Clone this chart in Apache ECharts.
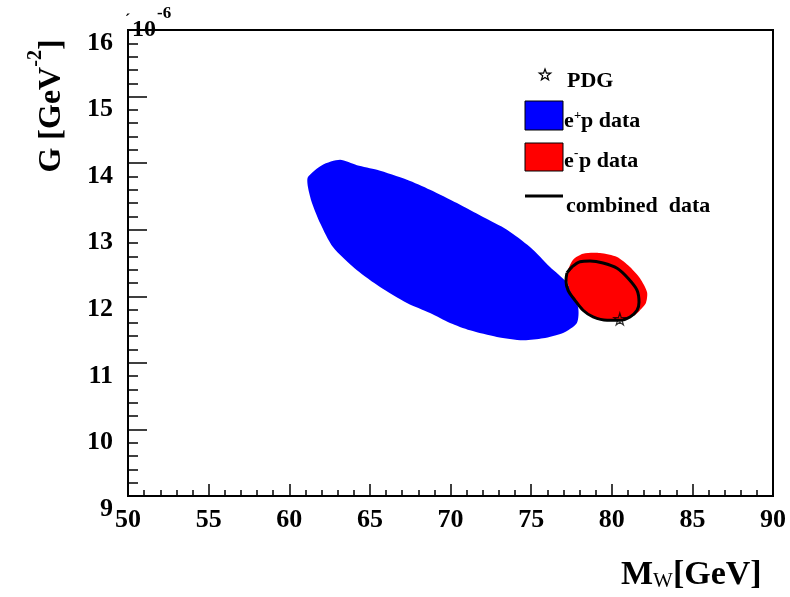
<!DOCTYPE html>
<html>
<head>
<meta charset="utf-8">
<script src="https://cdn.jsdelivr.net/npm/echarts@6/dist/echarts.min.js"></script>
<style>
  html, body { margin: 0; padding: 0; background: #fff; }
  #chart { width: 790px; height: 597px; }
</style>
</head>
<body>
<div id="chart"></div>
<script>
// contour of the e+p fit (M_W in GeV, G in 1e-6 GeV^-2)
const ePlusContour = [
  [61.16, 13.79], [62.03, 13.97], [63.15, 14.05], [64.20, 13.97], [65.44, 13.90],
  [67.30, 13.75], [68.73, 13.60], [70.40, 13.40], [72.02, 13.19], [73.50, 13.00],
  [74.93, 12.74], [76.17, 12.44], [77.22, 12.20], [77.91, 11.84], [77.84, 11.60],
  [76.98, 11.45], [75.74, 11.37], [74.50, 11.34], [72.88, 11.39], [71.21, 11.49],
  [69.97, 11.60], [68.73, 11.75], [67.30, 11.90], [65.63, 12.14], [64.20, 12.39],
  [62.71, 12.74], [61.91, 13.10], [61.41, 13.40], [61.16, 13.64]
];
// contour of the e-p fit
const eMinusContour = [
  [77.60, 12.55], [78.22, 12.64], [79.27, 12.65], [80.33, 12.59], [81.13, 12.44],
  [81.75, 12.27], [82.19, 12.06], [82.12, 11.90], [81.75, 11.79], [81.44, 11.72],
  [80.70, 11.64], [79.71, 11.64], [78.84, 11.69], [78.03, 11.84], [77.53, 12.02],
  [77.22, 12.24], [77.22, 12.35]
];
// contour of the combined fit
const combinedContour = [
  [77.22, 12.35], [77.53, 12.44], [78.03, 12.52], [78.65, 12.53], [79.46, 12.50],
  [80.33, 12.42], [81.01, 12.27], [81.57, 12.09], [81.69, 11.91], [81.57, 11.79],
  [81.13, 11.69], [80.51, 11.64], [79.71, 11.64], [78.84, 11.69], [78.22, 11.79],
  [77.72, 11.94], [77.29, 12.09], [77.16, 12.24], [77.22, 12.35]
];
// PDG value
const pdgPoint = [[80.5, 11.66]];

const serif = '"Liberation Serif", "DejaVu Serif", serif';
const starPath = 'path://M50,0 L61,35 L98,35 L68,57 L79,91 L50,70 L21,91 L32,57 L2,35 L39,35 Z';

// star outline for the legend icon
function starPoints(cx, cy, r) {
  const pts = [];
  for (let i = 0; i < 10; i++) {
    const a = -Math.PI / 2 + i * Math.PI / 5;
    const rr = i % 2 === 0 ? r : r * 0.4;
    pts.push([cx + rr * Math.cos(a), cy + rr * Math.sin(a)]);
  }
  return pts;
}

// polygon drawn through the axis scales
function polygonItem(points, fill) {
  return function (params, api) {
    return {
      type: 'polygon',
      shape: { points: points.map(p => api.coord(p)), smooth: 0.25 },
      style: { fill: fill, stroke: 'none' }
    };
  };
}

const chart = echarts.init(document.getElementById('chart'));

chart.setOption({
  animation: false,
  grid: {
    left: 128, right: 17, top: 30, bottom: 101,
    show: true, borderColor: '#000', borderWidth: 2, backgroundColor: '#fff'
  },
  xAxis: {
    type: 'value', min: 50, max: 90, interval: 5,
    axisLine: { show: true, lineStyle: { color: '#000', width: 2 } },
    axisTick: { show: true, inside: true, length: 12, lineStyle: { color: '#000', width: 1.5 } },
    minorTick: { show: true, splitNumber: 5, length: 6, lineStyle: { color: '#000', width: 1.5 } },
    splitLine: { show: false },
    axisLabel: {
      margin: 11, color: '#000', fontFamily: serif, fontWeight: 'bold', fontSize: 26,
      showMinLabel: true, showMaxLabel: true
    }
  },
  yAxis: {
    type: 'value', min: 9, max: 16, interval: 1,
    axisLine: { show: true, lineStyle: { color: '#000', width: 2 } },
    axisTick: { show: true, inside: true, length: 19, lineStyle: { color: '#000', width: 1.5 } },
    minorTick: { show: true, splitNumber: 5, length: 10, lineStyle: { color: '#000', width: 1.5 } },
    splitLine: { show: false },
    axisLabel: {
      margin: 15, color: '#000', fontFamily: serif, fontWeight: 'bold', fontSize: 26,
      verticalAlign: 'top', showMinLabel: true, showMaxLabel: true
    }
  },
  series: [
    {
      name: 'e+p data', type: 'custom', data: [0],
      renderItem: polygonItem(ePlusContour, '#0000ff'), z: 2
    },
    {
      name: 'e-p data', type: 'custom', data: [0],
      renderItem: polygonItem(eMinusContour, '#ff0000'), z: 3
    },
    {
      name: 'combined data', type: 'line', data: combinedContour,
      symbol: 'none', smooth: 0.3, z: 4,
      lineStyle: { color: '#000', width: 3 }
    },
    {
      name: 'PDG', type: 'scatter', data: pdgPoint, symbol: starPath, symbolSize: 12, z: 5,
      itemStyle: { color: 'rgba(0,0,0,0)', borderColor: '#000', borderWidth: 1.2 }
    }
  ],
  graphic: [
    // exponent at top of y axis
    {
      type: 'text', x: 125, y: 13, z: 10,
      style: { text: '´', fill: '#000', font: 'bold 16px ' + serif }
    },
    {
      type: 'text', x: 132, y: 18, z: 10,
      style: { text: '10', fill: '#000', font: 'bold 24px ' + serif }
    },
    {
      type: 'text', x: 157, y: 5, z: 10,
      style: { text: '-6', fill: '#000', font: 'bold 17px ' + serif }
    },
    // y axis title
    {
      type: 'text', x: 47, y: 106, rotation: Math.PI / 2, z: 10,
      style: {
        text: '{t|G [GeV}{s|-2}{t|]}', align: 'center', verticalAlign: 'middle', fill: '#000',
        rich: {
          t: { fontFamily: serif, fontSize: 32, fontWeight: 'bold', padding: [10, 0, 0, 0] },
          s: { fontFamily: serif, fontSize: 20, fontWeight: 'bold', verticalAlign: 'top' }
        }
      }
    },
    // x axis title
    {
      type: 'text', x: 621, y: 558, z: 10,
      style: {
        text: '{t|M}{s|W}{t|[GeV]}', fill: '#000',
        rich: {
          t: { fontFamily: serif, fontSize: 34, fontWeight: 'bold' },
          s: { fontFamily: serif, fontSize: 21, verticalAlign: 'bottom', padding: [12, 0, 0, 0] }
        }
      }
    },
    // legend
    {
      type: 'polygon', z: 10,
      shape: { points: starPoints(545, 75, 6) },
      style: { fill: 'none', stroke: '#000', lineWidth: 1.2 }
    },
    {
      type: 'text', x: 567, y: 70, z: 10,
      style: { text: 'PDG', fill: '#000', font: 'bold 22px ' + serif }
    },
    {
      type: 'rect', z: 10, shape: { x: 525, y: 101, width: 38, height: 29 },
      style: { fill: '#0000ff', stroke: '#000', lineWidth: 1 }
    },
    {
      type: 'text', x: 564, y: 110, z: 10,
      style: { text: 'e', fill: '#000', font: 'bold 22px ' + serif }
    },
    {
      type: 'text', x: 574, y: 109, z: 10,
      style: { text: '+', fill: '#000', font: 'bold 13px ' + serif }
    },
    {
      type: 'text', x: 581, y: 110, z: 10,
      style: { text: 'p data', fill: '#000', font: 'bold 22px ' + serif }
    },
    {
      type: 'rect', z: 10, shape: { x: 525, y: 143, width: 38, height: 28 },
      style: { fill: '#ff0000', stroke: '#000', lineWidth: 1 }
    },
    {
      type: 'text', x: 564, y: 150, z: 10,
      style: { text: 'e', fill: '#000', font: 'bold 22px ' + serif }
    },
    {
      type: 'text', x: 574, y: 147, z: 10,
      style: { text: '-', fill: '#000', font: 'bold 13px ' + serif }
    },
    {
      type: 'text', x: 579, y: 150, z: 10,
      style: { text: 'p data', fill: '#000', font: 'bold 22px ' + serif }
    },
    {
      type: 'line', z: 10, shape: { x1: 525, y1: 196, x2: 563, y2: 196 },
      style: { stroke: '#000', lineWidth: 3 }
    },
    {
      type: 'text', x: 566, y: 195, z: 10,
      style: { text: 'combined  data', fill: '#000', font: 'bold 22px ' + serif }
    }
  ]
});
</script>
</body>
</html>
